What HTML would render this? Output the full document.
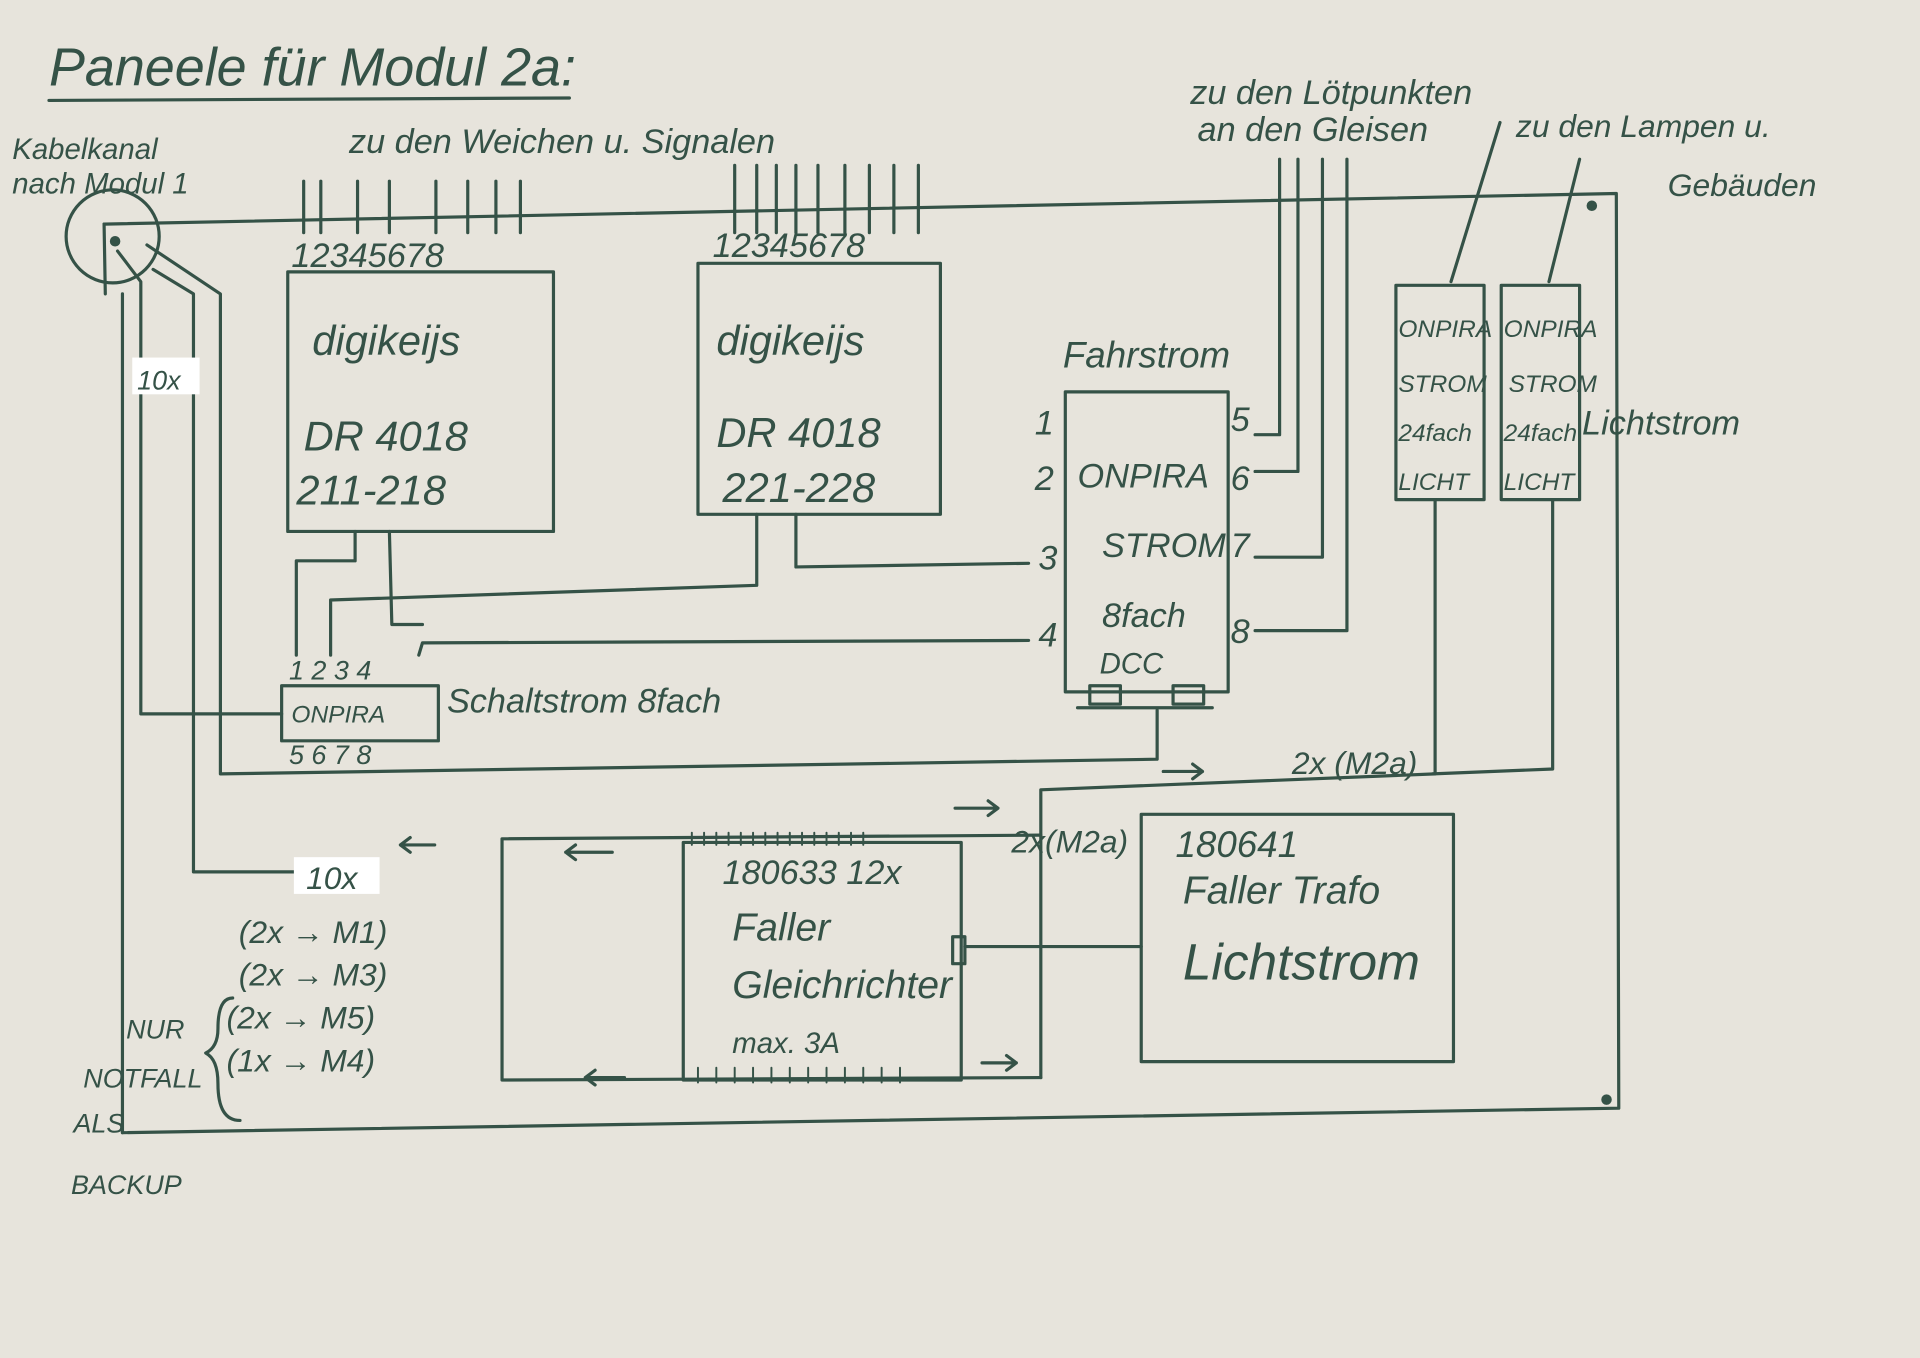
<!DOCTYPE html>
<html><head><meta charset="utf-8"><style>
html,body{margin:0;padding:0;background:#e7e4dc;}
svg{display:block}
text{font-family:"Liberation Sans",sans-serif;fill:#355247;}
</style></head><body>
<svg width="1920" height="1358" viewBox="0 0 1568 1109" xmlns="http://www.w3.org/2000/svg">
<rect width="1568" height="1109" fill="#e7e4dc"/>
<g stroke="#355247" stroke-width="2.6" fill="none" stroke-linecap="round" stroke-linejoin="round">
<!-- title underline -->
<line x1="40" y1="82" x2="465" y2="80"/>
<!-- main frame -->
<polyline points="85,183 1320,158 1322,905 100,925"/>
<line x1="85" y1="183" x2="86" y2="240"/>
<line x1="100" y1="240" x2="100" y2="925"/>
<circle cx="92" cy="193" r="38"/>
<circle cx="94" cy="197" r="3" fill="#355247"/>
<circle cx="1300" cy="168" r="3" fill="#355247"/>
<circle cx="1312" cy="898" r="3" fill="#355247"/>
<!-- wires from channel -->
<polyline points="96,205 115,230 115,583 230,583"/>
<polyline points="120,200 180,240 180,632 945,620 945,580"/>
<polyline points="125,220 158,240 158,712 240,712"/>
<!-- DR4018 box1 -->
<rect x="235" y="222" width="217" height="212"/>
<g><line x1="248" y1="148" x2="248" y2="190"/><line x1="262" y1="148" x2="262" y2="190"/><line x1="292" y1="148" x2="292" y2="190"/><line x1="318" y1="148" x2="318" y2="190"/><line x1="356" y1="148" x2="356" y2="190"/><line x1="382" y1="148" x2="382" y2="190"/><line x1="405" y1="148" x2="405" y2="190"/><line x1="425" y1="148" x2="425" y2="190"/></g>
<!-- DR4018 box2 -->
<rect x="570" y="215" width="198" height="205"/>
<g><line x1="600" y1="135" x2="600" y2="190"/><line x1="618" y1="135" x2="618" y2="190"/><line x1="634" y1="135" x2="634" y2="190"/><line x1="650" y1="135" x2="650" y2="190"/><line x1="668" y1="135" x2="668" y2="190"/><line x1="690" y1="135" x2="690" y2="190"/><line x1="710" y1="135" x2="710" y2="190"/><line x1="730" y1="135" x2="730" y2="190"/><line x1="750" y1="135" x2="750" y2="190"/></g>
<!-- connections to schaltstrom -->
<polyline points="290,434 290,458 242,458 242,535"/>
<polyline points="270,535 270,490 618,478 618,420"/>
<polyline points="318,434 320,510 345,510"/>
<polyline points="342,535 345,525 840,523"/>
<polyline points="650,420 650,463 840,460"/>
<rect x="230" y="560" width="128" height="45"/>
<!-- ONPIRA 8fach -->
<rect x="870" y="320" width="133" height="245"/>
<rect x="890" y="560" width="25" height="15"/><rect x="958" y="560" width="25" height="15"/>
<line x1="880" y1="578" x2="990" y2="578"/>
<polyline points="1025,355 1045,355 1045,130"/>
<polyline points="1025,385 1060,385 1060,130"/>
<polyline points="1025,455 1080,455 1080,130"/>
<polyline points="1025,515 1100,515 1100,130"/>
<!-- small boxes -->
<rect x="1140" y="233" width="72" height="175"/>
<rect x="1226" y="233" width="64" height="175"/>
<line x1="1185" y1="230" x2="1225" y2="100"/>
<line x1="1265" y1="230" x2="1290" y2="130"/>
<polyline points="1172,408 1172,632 850,645 850,880"/>
<polyline points="1268,408 1268,628 1170,632"/>
<!-- gleichrichter -->
<polyline points="850,880 410,882 410,685 850,682"/>
<rect x="558" y="688" width="227" height="194"/>
<rect x="778" y="765" width="10" height="22"/>
<line x1="788" y1="773" x2="932" y2="773"/>
<rect x="932" y="665" width="255" height="202"/>
<g stroke-width="1.6"><path d="M565 680v10M575 680v10M585 680v10M595 680v10M605 680v10M615 680v10M625 680v10M635 680v10M645 680v10M655 680v10M665 680v10M675 680v10M685 680v10M695 680v10M705 680v10M570 872v12M585 872v12M600 872v12M615 872v12M630 872v12M645 872v12M660 872v12M675 872v12M690 872v12M705 872v12M720 872v12M735 872v12"/></g>
<!-- arrows -->
<path d="M355 690h-28m8-6l-8 6 8 6"/><path d="M500 696h-38m8-6l-8 6 8 6"/><path d="M510 880h-32m8-6l-8 6 8 6"/>
<path d="M780 660h35m-8-6l8 6-8 6"/><path d="M950 630h32m-8-6l8 6-8 6"/><path d="M802 868h28m-8-6l8 6-8 6"/>
<!-- brace -->
<path d="M190 815q-12 0-12 25 0 15-10 20 10 5 10 25 0 30 18 30"/>
</g>
<g font-size="34" font-style="italic">
<text x="40" y="70" font-size="44">Paneele für Modul 2a:</text>
<text x="10" y="130" font-size="24">Kabelkanal</text>
<text x="10" y="158" font-size="24">nach Modul 1</text>
<text x="285" y="125" font-size="28">zu den Weichen u. Signalen</text>
<text x="238" y="218" font-size="28">12345678</text>
<text x="582" y="210" font-size="28">12345678</text>
<text x="255" y="290">digikeijs</text>
<text x="248" y="368">DR 4018</text>
<text x="242" y="412">211-218</text>
<text x="585" y="290">digikeijs</text>
<text x="585" y="365">DR 4018</text>
<text x="590" y="410">221-228</text>
<rect x="108" y="292" width="55" height="30" fill="#fff"/>
<text x="112" y="318" font-size="22">10x</text>
<text x="972" y="85" font-size="28">zu den Lötpunkten</text>
<text x="978" y="115" font-size="28">an den Gleisen</text>
<text x="1238" y="112" font-size="26">zu den Lampen u.</text>
<text x="1362" y="160" font-size="26">Gebäuden</text>
<text x="868" y="300" font-size="30">Fahrstrom</text>
<text x="845" y="355" font-size="28">1</text><text x="845" y="400" font-size="28">2</text><text x="848" y="465" font-size="28">3</text><text x="848" y="528" font-size="28">4</text>
<text x="1005" y="352" font-size="28">5</text><text x="1005" y="400" font-size="28">6</text><text x="1005" y="455" font-size="28">7</text><text x="1005" y="525" font-size="28">8</text>
<text x="880" y="398" font-size="28">ONPIRA</text>
<text x="900" y="455" font-size="28">STROM</text>
<text x="900" y="512" font-size="28">8fach</text>
<text x="898" y="550" font-size="24">DCC</text>
<g font-size="20"><text x="1142" y="275">ONPIRA</text><text x="1142" y="320">STROM</text><text x="1142" y="360">24fach</text><text x="1142" y="400">LICHT</text>
<text x="1228" y="275">ONPIRA</text><text x="1232" y="320">STROM</text><text x="1228" y="360">24fach</text><text x="1228" y="400">LICHT</text></g>
<text x="1292" y="355" font-size="28">Lichtstrom</text>
<text x="236" y="555" font-size="22">1 2 3 4</text>
<text x="238" y="590" font-size="20">ONPIRA</text>
<text x="236" y="624" font-size="22">5 6 7 8</text>
<text x="365" y="582" font-size="28">Schaltstrom 8fach</text>
<text x="1055" y="632" font-size="26">2x (M2a)</text>
<text x="826" y="696" font-size="26">2x(M2a)</text>
<rect x="240" y="700" width="70" height="30" fill="#fff"/>
<text x="250" y="726" font-size="26">10x</text>
<text x="590" y="722" font-size="28">180633  12x</text>
<text x="598" y="768" font-size="32">Faller</text>
<text x="598" y="815" font-size="32">Gleichrichter</text>
<text x="598" y="860" font-size="24">max. 3A</text>
<text x="960" y="700" font-size="30">180641</text>
<text x="966" y="738" font-size="32">Faller Trafo</text>
<text x="966" y="800" font-size="42">Lichtstrom</text>
<g font-size="26"><text x="195" y="770">(2x → M1)</text><text x="195" y="805">(2x → M3)</text><text x="185" y="840">(2x → M5)</text><text x="185" y="875">(1x → M4)</text></g>
<g font-size="22"><text x="103" y="848">NUR</text><text x="68" y="888">NOTFALL</text><text x="60" y="925">ALS</text><text x="58" y="975">BACKUP</text></g>
</g>
</svg>
</body></html>
